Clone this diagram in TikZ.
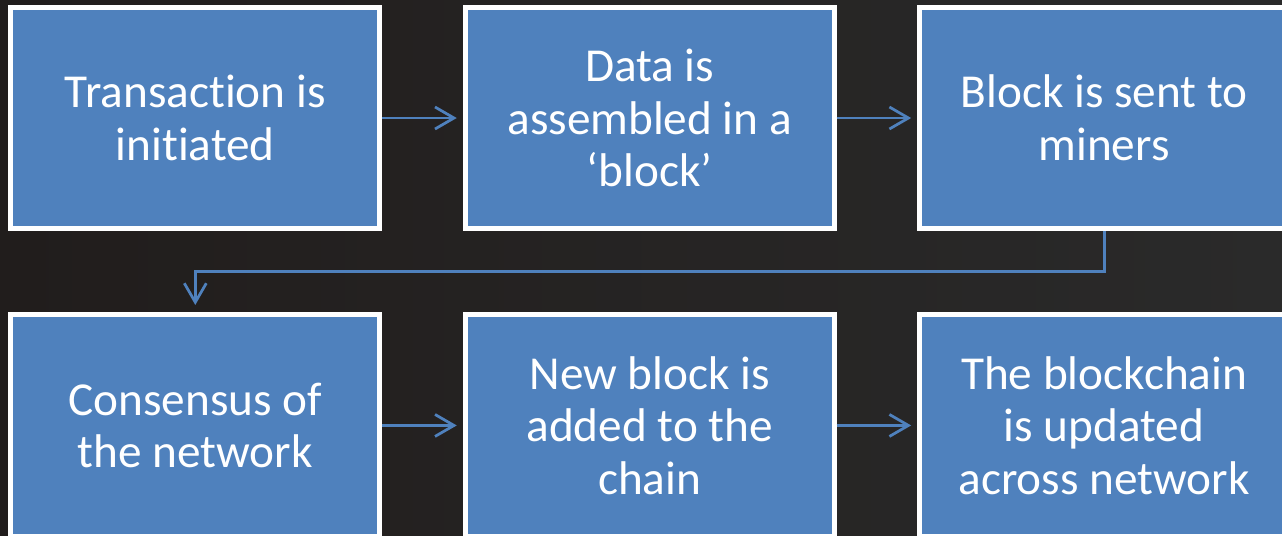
\documentclass[tikz,border=0pt]{standalone}
\usepackage{fontspec}
\setmainfont[Ligatures=NoCommon]{Carlito}
\usepackage{tikz}
\usetikzlibrary{arrows.meta, positioning, calc}

\definecolor{boxblue}{RGB}{79,129,189}
\definecolor{bgleft}{RGB}{33,29,28}
\definecolor{bgright}{RGB}{42,42,42}

\begin{document}
\begin{tikzpicture}[
    x=0.02cm, y=0.02cm,
    node distance=1.61cm,
    %% ── Box and arrow styles ──────────────────────────────────
    stage/.style={
        rectangle,
        minimum width=7.38cm, minimum height=4.44cm,
        text centered, align=center,
        draw=white, line width=0.1cm, fill=boxblue,
        text=white,
        font=\fontsize{26.9pt}{29.9pt}\selectfont
    },
    arrow/.style={line width=0.055cm, draw=boxblue,
        -{Straight Barb[length=0.38cm, width=0.44cm]}}
]

%% ── Background ─────────────────────────────────────────────────
\useasboundingbox (0,0) rectangle (1282,-535);
\shade[left color=bgleft, right color=bgright] (0,0) rectangle (1282,-535);

%% ── Nodes (top row, then bottom row) ───────────────────────────
\node (b1) [stage] at (195.3,-118)  {Transaction is\\initiated};
\node (b2) [stage, right=of b1]     {Data is\\assembled in a\\‘block’};
\node (b3) [stage, right=of b2]     {Block is sent to\\miners};
\node (b4) [stage, below=of b1]     {Consensus of\\the network};
\node (b5) [stage, right=of b4]     {New block is\\added to the\\chain};
\node (b6) [stage, right=of b5]     {The blockchain\\is updated\\across network};

%% ── Flow arrows ────────────────────────────────────────────────
\draw [arrow, shorten >=0.12cm] (b1) -- (b2);
\draw [arrow, shorten >=0.12cm] (b2) -- (b3);
%% Row change
\coordinate (bend) at ($(b3.south)!0.5!(b4.north)$);
\draw [arrow, shorten >=0.14cm] (b3.south) |- (bend) -| (b4.north);
\draw [arrow, shorten >=0.12cm] (b4) -- (b5);
\draw [arrow, shorten >=0.12cm] (b5) -- (b6);

\end{tikzpicture}
\end{document}
